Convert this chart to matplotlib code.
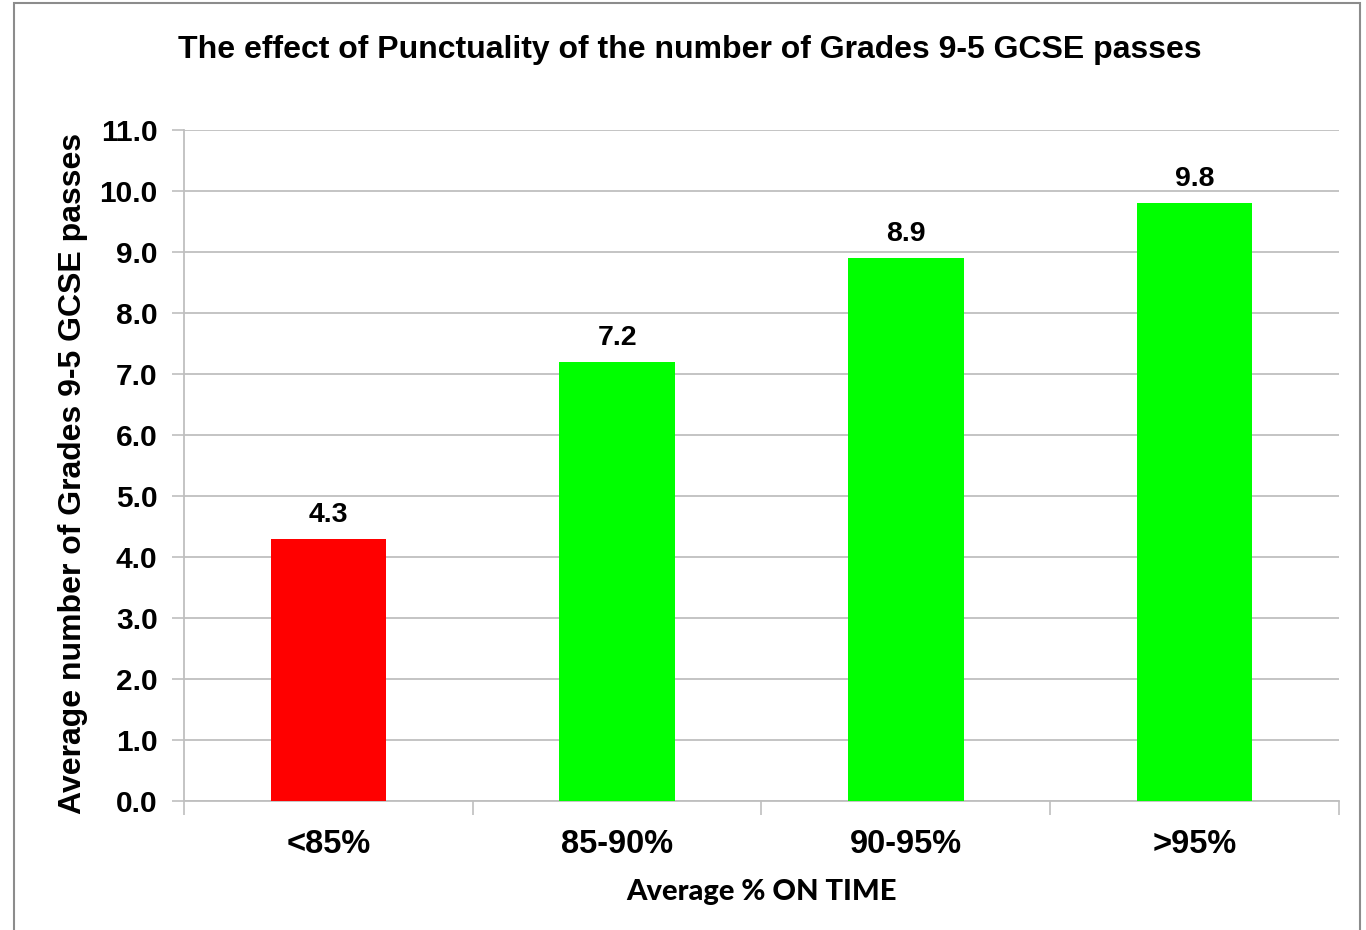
import matplotlib.pyplot as plt
from matplotlib.patches import Rectangle

categories = ['<85%', '85-90%', '90-95%', '>95%']
values = [4.3, 7.2, 8.9, 9.8]
colors = ['#ff0000', '#00ff00', '#00ff00', '#00ff00']
yticks = [0, 1, 2, 3, 4, 5, 6, 7, 8, 9, 10, 11]

plt.rcParams['font.family'] = ['Liberation Sans', 'DejaVu Sans']

fig = plt.figure(figsize=(13.66, 9.30), dpi=100)
ax = fig.add_axes([0.1347, 0.1387, 0.8455, 0.7215])

x = list(range(len(categories)))
bars = ax.bar(x, values, width=0.4, color=colors, zorder=3)

ax.set_xlim(-0.5, len(categories) - 0.5)
ax.set_ylim(0, 11)
ax.set_yticks(yticks)
ax.set_yticklabels([f'{v:.1f}' for v in yticks], fontsize=21.5, fontweight='bold')
ax.yaxis.grid(True, color='#bfbfbf', linewidth=1.3, zorder=0)
ax.tick_params(axis='y', length=9, width=1.2, color='#bfbfbf', pad=10)

# category labels centred, ticks at boundaries
ax.set_xticks(x)
ax.set_xticklabels(categories, fontsize=23.5, fontweight='bold')
ax.tick_params(axis='x', length=0, pad=20)
ax.set_xticks([i + 0.5 for i in range(-1, len(categories))], minor=True)
ax.tick_params(axis='x', which='minor', length=10, width=1.2, color='#bfbfbf')

for s in ['top', 'right']:
    ax.spines[s].set_visible(False)
for s in ['left', 'bottom']:
    ax.spines[s].set_color('#bfbfbf')
    ax.spines[s].set_linewidth(1.3)

for b, v in zip(bars, values):
    ax.annotate(f'{v:.1f}', (b.get_x() + b.get_width() / 2, v),
                xytext=(0, 8), textcoords='offset points',
                ha='center', va='bottom', fontsize=20.5, fontweight='bold')

ax.set_ylabel('Average number of Grades 9-5 GCSE passes', fontsize=23,
              fontweight='bold')
ax.yaxis.set_label_coords(-0.0835, 0.488)
ax.set_xlabel('Average % ON TIME', fontsize=21, fontweight='black',
              family=['Lato', 'DejaVu Sans'], labelpad=14)

fig.text(0.505, 0.946, 'The effect of Punctuality of the number of Grades 9-5 GCSE passes',
         ha='center', va='center', fontsize=23, fontweight='bold')

# outer border
fig.patches.append(Rectangle((0.0105, -0.01), 0.985, 1.007, transform=fig.transFigure,
                             fill=False, edgecolor='#8c8c8c', linewidth=1.5))

fig.savefig('out.png', dpi=100)
